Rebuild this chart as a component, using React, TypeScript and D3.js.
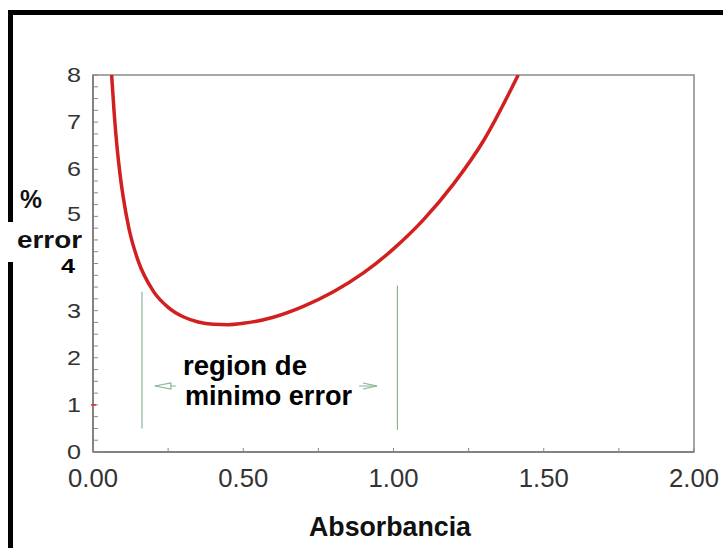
import React from "react";
import * as d3 from "d3";

// Curve: absorbance vs % error
const absorbance = [0.062, 0.07, 0.08, 0.09, 0.1, 0.12, 0.15, 0.2, 0.25, 0.3, 0.35, 0.4, 0.45, 0.5, 0.6, 0.7, 0.8, 0.9, 1.0, 1.1, 1.2, 1.3, 1.415];
const errorPct = [8.0, 7.24, 6.47, 5.89, 5.43, 4.73, 4.06, 3.42, 3.07, 2.87, 2.76, 2.71, 2.7, 2.73, 2.86, 3.09, 3.4, 3.8, 4.31, 4.93, 5.69, 6.61, 8.0];

const xTicks = [0, 0.5, 1.0, 1.5, 2.0];
const xTickLabels = ["0.00", "0.50", "1.00", "1.50", "2.00"];
const yTicks = [0, 1, 2, 3, 4, 5, 6, 7, 8];
const yTickLabels = ["0", "1", "2", "3", "4", "5", "6", "7", "8"];

// annotation: region of minimum error
const regionBounds = [0.163, 1.013];
const regionTop = [3.4, 3.53];
const regionBottom = [0.5, 0.47];
const arrowY = 1.4;
const arrowTips = [0.206, 0.945];
const regionText = ["region de", "minimo error"];

const W = 723;
const H = 548;
const L = 93, R = 694, T = 75, B = 452;

export default function App() {
  const x = d3.scaleLinear().domain([0, 2]).range([L, R]);
  const y = d3.scaleLinear().domain([0, 8]).range([B, T]);
  const pts: [number, number][] = absorbance.map((a, i) => [a, errorPct[i]]);
  const line = d3
    .line<[number, number]>()
    .x((d) => x(d[0]))
    .y((d) => y(d[1]))
    .curve(d3.curveMonotoneX);

  const yMinor = d3.range(0, 8.001, 0.25);
  const xMinor = d3.range(0, 2.001, 0.25);
  const green = "#86b592";
  const font = "'Liberation Sans', Arial, sans-serif";

  const ay = y(arrowY);
  const lt = x(arrowTips[0]);
  const rt = x(arrowTips[1]);

  return (
    <svg
      width={W}
      height={H}
      style={{ position: "absolute", left: 0, top: 0, background: "#fff" }}
      fontFamily={font}
    >
      <defs>
        <clipPath id="plotclip">
          <rect x={L} y={T} width={R - L} height={B - T} />
        </clipPath>
      </defs>
      <rect x={0} y={0} width={W} height={H} fill="#fff" />
      {/* outer thick frame */}
      <rect x={10.5} y={12.5} width={900} height={900} fill="none" stroke="#000" strokeWidth={5} />

      {/* plot frame */}
      <rect x={L} y={T} width={R - L} height={B - T} fill="#fff" stroke="#8a8a8a" strokeWidth={1.5} />
      <line x1={L} y1={T} x2={L} y2={B} stroke="#777" strokeWidth={1.5} />
      <line x1={L} y1={B} x2={R} y2={B} stroke="#777" strokeWidth={1.5} />

      {/* y minor ticks */}
      {yMinor.map((v, i) => (
        <line key={"ym" + i} x1={L} x2={L + 5} y1={y(v)} y2={y(v)} stroke="#888" strokeWidth={1} />
      ))}
      {/* x minor ticks */}
      {xMinor.map((v, i) => (
        <line key={"xm" + i} x1={x(v)} x2={x(v)} y1={B} y2={B - 4} stroke="#888" strokeWidth={1} />
      ))}

      {/* red artifact tick at 1 */}
      <line x1={L - 2} x2={L + 3} y1={y(1)} y2={y(1)} stroke="#d43030" strokeWidth={1.5} />

      {/* y tick labels (the "4" is drawn bold further below) */}
      {yTicks.map((v, i) =>
        v === 4 ? null : (
          <text key={"yl" + i} x={67} y={y(v) + (v === 5 ? 5 : 7)} fontSize={21} fill="#333" textLength={14} lengthAdjust="spacingAndGlyphs">
            {yTickLabels[i]}
          </text>
        )
      )}

      {/* x tick labels */}
      {xTicks.map((v, i) => (
        <text key={"xl" + i} x={x(v) - 25} y={487} fontSize={26} fill="#333" textLength={50} lengthAdjust="spacingAndGlyphs">
          {xTickLabels[i]}
        </text>
      ))}

      {/* annotation lines */}
      {regionBounds.map((v, i) => (
        <line key={"rb" + i} x1={x(v)} x2={x(v)} y1={y(regionTop[i])} y2={y(regionBottom[i])} stroke={green} strokeWidth={1.2} />
      ))}
      <line x1={lt} x2={rt} y1={ay} y2={ay} stroke={green} strokeWidth={1} />
      <path d={`M${lt},${ay} L${lt + 16},${ay - 3} L${lt + 16},${ay + 3} Z`} fill="#fff" stroke={green} strokeWidth={1.2} />
      <path d={`M${rt},${ay} L${rt - 14},${ay - 3} M${rt},${ay} L${rt - 14},${ay + 3}`} fill="none" stroke={green} strokeWidth={1.2} />
      <rect x={176} y={345} width={183} height={70} fill="#fff" />
      <text x={183} y={375} fontSize={27} fontWeight="bold" fill="#000" textLength={124} lengthAdjust="spacingAndGlyphs">
        {regionText[0]}
      </text>
      <text x={185} y={405} fontSize={27} fontWeight="bold" fill="#000" textLength={167} lengthAdjust="spacingAndGlyphs">
        {regionText[1]}
      </text>

      {/* curve */}
      <path d={line(pts) || ""} fill="none" stroke="#d21f1f" strokeWidth={3.5} clipPath="url(#plotclip)" />

      {/* y axis title (its white box interrupts the outer frame) */}
      <rect x={5} y={222} width={12} height={40} fill="#fff" />
      <text x={20} y={208} fontSize={25} fontWeight="bold" fill="#111" textLength={22} lengthAdjust="spacingAndGlyphs">
        %
      </text>
      <text x={17} y={248} fontSize={24} fontWeight="bold" fill="#111" textLength={65} lengthAdjust="spacingAndGlyphs">
        error
      </text>
      <text x={61} y={273} fontSize={20} fontWeight="bold" fill="#000" textLength={14} lengthAdjust="spacingAndGlyphs">
        {yTickLabels[4]}
      </text>

      {/* x axis title */}
      <text x={309} y={536} fontSize={28} fontWeight="bold" fill="#111" textLength={162} lengthAdjust="spacingAndGlyphs">
        Absorbancia
      </text>
    </svg>
  );
}
